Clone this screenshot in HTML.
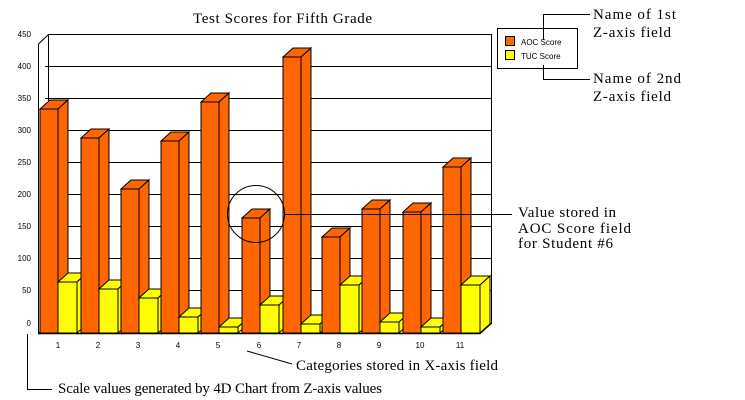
<!DOCTYPE html>
<html><head><meta charset="utf-8"><style>
html,body{margin:0;padding:0;background:#fff;}
svg{display:block;}
.s{font-family:"Liberation Serif",serif;font-size:15px;fill:#000;}
.a{font-family:"Liberation Sans",sans-serif;font-size:8px;fill:#000;}
</style></head><body>
<svg width="745" height="400" viewBox="0 0 745 400" xmlns="http://www.w3.org/2000/svg">
<rect width="745" height="400" fill="#fff"/>
<text class="s" x="193" y="23" textLength="179" lengthAdjust="spacing">Test Scores for Fifth Grade</text>
<g stroke="#000" stroke-width="1" fill="none">
<rect x="48.5" y="34.5" width="443" height="289"/>
<line x1="45" y1="66.5" x2="491" y2="66.5"/><line x1="45" y1="98.5" x2="491" y2="98.5"/>
<line x1="45" y1="130.5" x2="491" y2="130.5"/><line x1="45" y1="162.5" x2="491" y2="162.5"/>
<line x1="45" y1="194.5" x2="491" y2="194.5"/><line x1="45" y1="226.5" x2="491" y2="226.5"/>
<line x1="45" y1="258.5" x2="491" y2="258.5"/><line x1="45" y1="290.5" x2="491" y2="290.5"/>
<polyline points="48.5,34.5 38.5,44 38.5,333.5 48.5,323.5"/>
</g>
<g class="a" text-anchor="end">
<text x="31" y="37">450</text><text x="31" y="69">400</text><text x="31" y="101">350</text>
<text x="31" y="133">300</text><text x="31" y="165">250</text><text x="31" y="197">200</text>
<text x="31" y="229">150</text><text x="31" y="261">100</text><text x="31" y="293">50</text>
<text x="31" y="326">0</text>
</g>
<g stroke="#000" stroke-width="1" stroke-linejoin="miter">
<g fill="#FF6600"><rect x="40" y="109" width="18" height="224"/><polygon points="40,109 50,100 68,100 58,109"/><polygon points="58,109 68,100 68,324 58,333"/></g>
<g fill="#FFFF00"><rect x="58" y="282" width="19" height="51"/><polygon points="58,282 68,273 87,273 77,282"/><polygon points="77,282 87,273 87,324 77,333"/></g>
<g fill="#FF6600"><rect x="81" y="138" width="18" height="195"/><polygon points="81,138 91,129 109,129 99,138"/><polygon points="99,138 109,129 109,324 99,333"/></g>
<g fill="#FFFF00"><rect x="99" y="289" width="19" height="44"/><polygon points="99,289 109,280 128,280 118,289"/><polygon points="118,289 128,280 128,324 118,333"/></g>
<g fill="#FF6600"><rect x="121" y="189" width="18" height="144"/><polygon points="121,189 131,180 149,180 139,189"/><polygon points="139,189 149,180 149,324 139,333"/></g>
<g fill="#FFFF00"><rect x="139" y="298" width="19" height="35"/><polygon points="139,298 149,289 168,289 158,298"/><polygon points="158,298 168,289 168,324 158,333"/></g>
<g fill="#FF6600"><rect x="161" y="141" width="18" height="192"/><polygon points="161,141 171,132 189,132 179,141"/><polygon points="179,141 189,132 189,324 179,333"/></g>
<g fill="#FFFF00"><rect x="179" y="317" width="19" height="16"/><polygon points="179,317 189,308 208,308 198,317"/><polygon points="198,317 208,308 208,324 198,333"/></g>
<g fill="#FF6600"><rect x="201" y="102" width="18" height="231"/><polygon points="201,102 211,93 229,93 219,102"/><polygon points="219,102 229,93 229,324 219,333"/></g>
<g fill="#FFFF00"><rect x="219" y="327" width="19" height="6"/><polygon points="219,327 229,318 248,318 238,327"/><polygon points="238,327 248,318 248,324 238,333"/></g>
<g fill="#FF6600"><rect x="242" y="218" width="18" height="115"/><polygon points="242,218 252,209 270,209 260,218"/><polygon points="260,218 270,209 270,324 260,333"/></g>
<g fill="#FFFF00"><rect x="260" y="305" width="19" height="28"/><polygon points="260,305 270,296 289,296 279,305"/><polygon points="279,305 289,296 289,324 279,333"/></g>
<g fill="#FF6600"><rect x="283" y="57" width="18" height="276"/><polygon points="283,57 293,48 311,48 301,57"/><polygon points="301,57 311,48 311,324 301,333"/></g>
<g fill="#FFFF00"><rect x="301" y="324" width="19" height="9"/><polygon points="301,324 311,315 330,315 320,324"/><polygon points="320,324 330,315 330,324 320,333"/></g>
<g fill="#FF6600"><rect x="322" y="237" width="18" height="96"/><polygon points="322,237 332,228 350,228 340,237"/><polygon points="340,237 350,228 350,324 340,333"/></g>
<g fill="#FFFF00"><rect x="340" y="285" width="19" height="48"/><polygon points="340,285 350,276 369,276 359,285"/><polygon points="359,285 369,276 369,324 359,333"/></g>
<g fill="#FF6600"><rect x="362" y="209" width="18" height="124"/><polygon points="362,209 372,200 390,200 380,209"/><polygon points="380,209 390,200 390,324 380,333"/></g>
<g fill="#FFFF00"><rect x="380" y="322" width="19" height="11"/><polygon points="380,322 390,313 409,313 399,322"/><polygon points="399,322 409,313 409,324 399,333"/></g>
<g fill="#FF6600"><rect x="403" y="212" width="18" height="121"/><polygon points="403,212 413,203 431,203 421,212"/><polygon points="421,212 431,203 431,324 421,333"/></g>
<g fill="#FFFF00"><rect x="421" y="327" width="19" height="6"/><polygon points="421,327 431,318 450,318 440,327"/><polygon points="440,327 450,318 450,324 440,333"/></g>
<g fill="#FF6600"><rect x="443" y="167" width="18" height="166"/><polygon points="443,167 453,158 471,158 461,167"/><polygon points="461,167 471,158 471,324 461,333"/></g>
<g fill="#FFFF00"><rect x="461" y="285" width="19" height="48"/><polygon points="461,285 471,276 490,276 480,285"/><polygon points="480,285 490,276 490,324 480,333"/></g>
</g>
<g stroke="#000" stroke-width="1.5" fill="none">
<polyline points="38.5,333.5 480,333.5 491,323.5"/>
</g>
<g class="a" text-anchor="middle">
<text x="58" y="348">1</text><text x="98" y="348">2</text><text x="138" y="348">3</text>
<text x="178" y="348">4</text><text x="218" y="348">5</text><text x="259" y="348">6</text>
<text x="299" y="348">7</text><text x="339" y="348">8</text><text x="379" y="348">9</text>
<text x="420" y="348">10</text><text x="460" y="348">11</text>
</g>
<rect x="497.5" y="28.5" width="80" height="40" fill="#fff" stroke="#000"/>
<rect x="505.5" y="36.5" width="9" height="9" fill="#FF6600" stroke="#000"/>
<rect x="505.5" y="50.5" width="9" height="9" fill="#FFFF00" stroke="#000"/>
<text class="a" x="521" y="45">AOC Score</text>
<text class="a" x="521" y="59">TUC Score</text>
<g stroke="#000" stroke-width="1" fill="none">
<polyline points="543.5,40 543.5,14.5 590,14.5"/>
<polyline points="543.5,65 543.5,79.5 590,79.5"/>
<circle cx="256" cy="214" r="28.5"/>
<line x1="284" y1="214.5" x2="512" y2="214.5"/>
<line x1="247" y1="351" x2="292" y2="364"/>
<polyline points="27.5,334 27.5,389.5 52,389.5"/>
</g>
<text class="s" x="593" y="19" textLength="83" lengthAdjust="spacing">Name of 1st</text>
<text class="s" x="593" y="37" textLength="78" lengthAdjust="spacing">Z-axis field</text>
<text class="s" x="593" y="83" textLength="88" lengthAdjust="spacing">Name of 2nd</text>
<text class="s" x="593" y="101" textLength="78" lengthAdjust="spacing">Z-axis field</text>
<text class="s" x="518" y="217" textLength="98" lengthAdjust="spacing">Value stored in</text>
<text class="s" x="518" y="233" textLength="113" lengthAdjust="spacing">AOC Score field</text>
<text class="s" x="518" y="248" textLength="95" lengthAdjust="spacing">for Student #6</text>
<text class="s" x="296" y="370" textLength="202" lengthAdjust="spacing">Categories stored in X-axis field</text>
<text class="s" x="58" y="393" textLength="324" lengthAdjust="spacing">Scale values generated by 4D Chart from Z-axis values</text>
</svg>
</body></html>
